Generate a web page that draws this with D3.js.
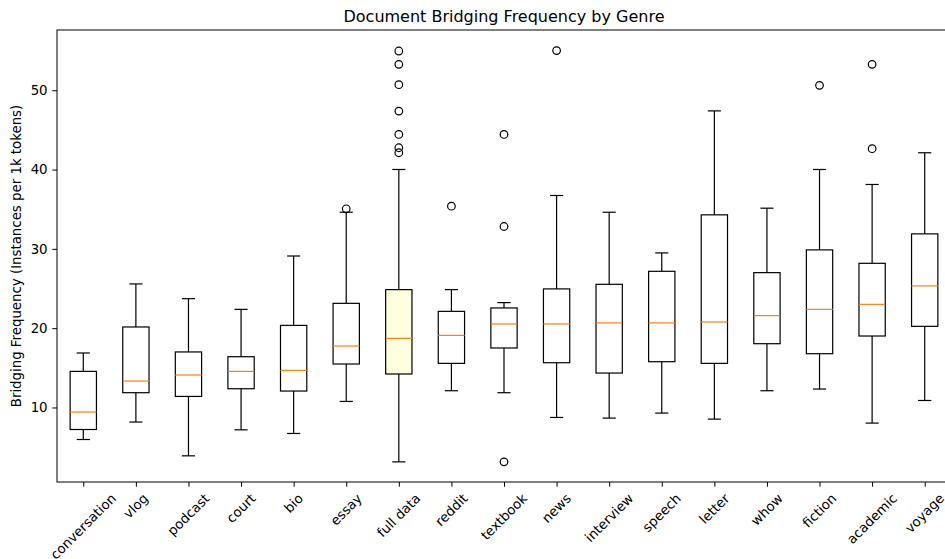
<!DOCTYPE html>
<html>
<head>
<meta charset="utf-8">
<script src="https://cdn.jsdelivr.net/npm/d3@7"></script>
<style>
  body { margin: 0; background: #fff; }
  text { font-family: "DejaVu Sans", sans-serif; fill: #000; }
</style>
</head>
<body>
<div id="root"></div>
<script>
// values
var genres = ["conversation", "vlog", "podcast", "court", "bio", "essay", "full data", "reddit",
  "textbook", "news", "interview", "speech", "letter", "whow", "fiction", "academic", "voyage"];
var whiskerLow = [5.96, 8.16, 3.9, 7.18, 6.72, 10.76, 3.14, 12.11, 11.86, 8.74, 8.66, 9.29, 8.53, 12.11, 12.32, 8.03, 10.88];
var q1 = [7.22, 11.86, 11.39, 12.36, 12.07, 15.48, 14.22, 15.56, 17.5, 15.64, 14.34, 15.77, 15.56, 18.04, 16.78, 19.01, 20.23];
var medians = [9.42, 13.33, 14.09, 14.55, 14.67, 17.75, 18.71, 19.09, 20.53, 20.53, 20.66, 20.66, 20.78, 21.58, 22.37, 23.0, 25.33];
var q3 = [14.55, 20.15, 17.0, 16.4, 20.35, 23.13, 24.86, 22.12, 22.55, 24.95, 25.53, 27.17, 34.29, 27.0, 29.87, 28.18, 31.89];
var whiskerHigh = [16.87, 25.58, 23.72, 22.37, 29.1, 34.62, 40.01, 24.86, 23.22, 36.73, 34.62, 29.49, 47.4, 35.13, 40.01, 38.12, 42.12];
var outliers = [[], [], [], [], [], [35.05], [54.95, 53.27, 50.7, 47.37, 44.43, 42.75, 42.12], [35.38],
  [44.43, 32.82, 3.14], [55.0], [], [], [], [], [50.62], [53.27, 42.63], []];
var yTicks = [10, 20, 30, 40, 50];
var highlight = "full data";

var width = 945;
var height = 559;
var plotL = 57, plotR = 951, plotT = 30, plotB = 482;
var fs = 13.33;

var svg = d3.select("#root").append("svg")
  .attr("width", width)
  .attr("height", height);

var xScale = d3.scaleLinear().domain([0.5, genres.length + 0.5]).range([plotL, plotR]);
var yScale = d3.scaleLinear().domain([0.6, 57.6]).range([plotB, plotT]);
var unit = xScale(2) - xScale(1);
var boxW = unit * 0.5;
var capW = unit * 0.25;

var boxes = svg.append("g").selectAll("g")
  .data(genres)
  .enter()
  .append("g");

// whiskers
boxes.append("line")
  .attr("x1", (d, i) => xScale(i + 1)).attr("x2", (d, i) => xScale(i + 1))
  .attr("y1", (d, i) => yScale(whiskerLow[i])).attr("y2", (d, i) => yScale(q1[i]))
  .attr("stroke", "#000").attr("stroke-width", 1.2);
boxes.append("line")
  .attr("x1", (d, i) => xScale(i + 1)).attr("x2", (d, i) => xScale(i + 1))
  .attr("y1", (d, i) => yScale(q3[i])).attr("y2", (d, i) => yScale(whiskerHigh[i]))
  .attr("stroke", "#000").attr("stroke-width", 1.2);
// caps
[whiskerLow, whiskerHigh].forEach(function (arr) {
  boxes.append("line")
    .attr("x1", (d, i) => xScale(i + 1) - capW / 2).attr("x2", (d, i) => xScale(i + 1) + capW / 2)
    .attr("y1", (d, i) => yScale(arr[i])).attr("y2", (d, i) => yScale(arr[i]))
    .attr("stroke", "#000").attr("stroke-width", 1.2);
});
// box
boxes.append("rect")
  .attr("x", (d, i) => xScale(i + 1) - boxW / 2)
  .attr("width", boxW)
  .attr("y", (d, i) => yScale(q3[i]))
  .attr("height", (d, i) => yScale(q1[i]) - yScale(q3[i]))
  .attr("fill", (d) => d === highlight ? "#ffffe0" : "none")
  .attr("stroke", "#000").attr("stroke-width", 1.2);
// median
boxes.append("line")
  .attr("x1", (d, i) => xScale(i + 1) - boxW / 2).attr("x2", (d, i) => xScale(i + 1) + boxW / 2)
  .attr("y1", (d, i) => yScale(medians[i])).attr("y2", (d, i) => yScale(medians[i]))
  .attr("stroke", "#ff7f0e").attr("stroke-width", 1.2);
// fliers
boxes.each(function (d, i) {
  d3.select(this).selectAll("circle")
    .data(outliers[i])
    .enter()
    .append("circle")
    .attr("cx", xScale(i + 1))
    .attr("cy", (v) => yScale(v))
    .attr("r", 3.8)
    .attr("fill", "none")
    .attr("stroke", "#000")
    .attr("stroke-width", 1.2);
});

// frame (right spine falls outside the window)
svg.append("rect")
  .attr("x", plotL).attr("y", plotT)
  .attr("width", plotR - plotL).attr("height", plotB - plotT)
  .attr("fill", "none").attr("stroke", "#000").attr("stroke-width", 1);

// y axis
var yAxis = svg.append("g").attr("transform", "translate(" + plotL + ",0)")
  .call(d3.axisLeft(yScale).tickValues(yTicks).tickSize(4.7).tickPadding(4.7));
yAxis.select(".domain").remove();
yAxis.selectAll("text").attr("font-size", fs).style("font-family", "DejaVu Sans").attr("fill", "#000");

// x axis
var xAxis = svg.append("g").attr("transform", "translate(0," + plotB + ")")
  .call(d3.axisBottom(xScale).tickValues(d3.range(1, genres.length + 1)).tickSize(4.7).tickFormat(""));
xAxis.select(".domain").remove();

var labels = svg.append("g").selectAll("text")
  .data(genres)
  .enter()
  .append("text")
  .attr("font-size", fs)
  .attr("text-anchor", "middle")
  .attr("dominant-baseline", "central")
  .text((d) => d);
labels.each(function (d, i) {
  var w = this.getComputedTextLength();
  var half = (w + fs) / (2 * Math.SQRT2);
  var cx = xScale(i + 1);
  var cy = plotB + 9.4 + half;
  d3.select(this)
    .attr("x", cx).attr("y", cy)
    .attr("transform", "rotate(-45," + cx + "," + cy + ")");
});

// titles
svg.append("text")
  .attr("x", (plotL + plotR) / 2)
  .attr("y", 22)
  .attr("text-anchor", "middle")
  .attr("font-size", 16)
  .text("Document Bridging Frequency by Genre");

svg.append("text")
  .attr("transform", "translate(21," + (plotT + plotB) / 2 + ") rotate(-90)")
  .attr("text-anchor", "middle")
  .attr("font-size", fs)
  .text("Bridging Frequency (Instances per 1k tokens)");
</script>
</body>
</html>
